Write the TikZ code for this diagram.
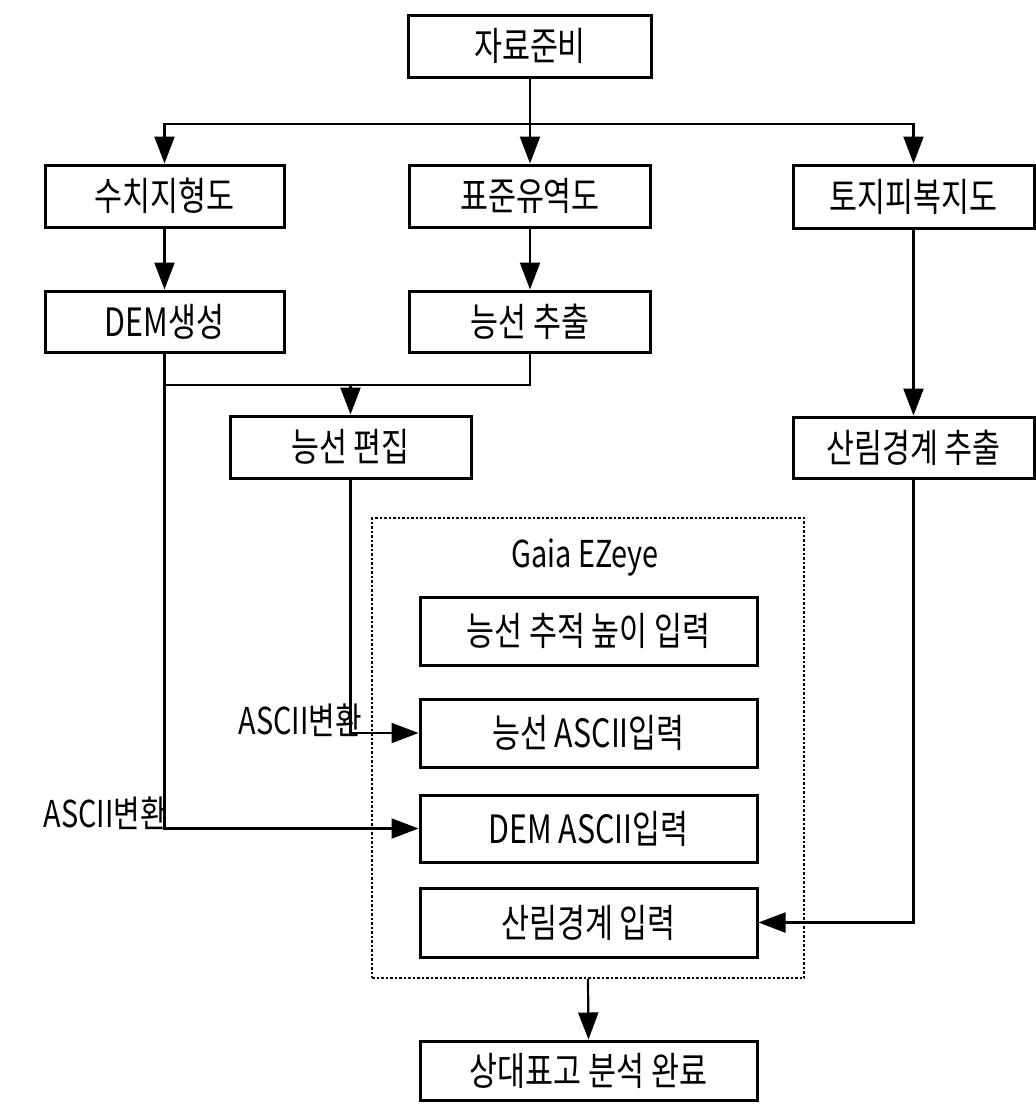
\documentclass[tikz,border=0pt]{standalone}
\usepackage{fontspec}
\setmainfont{Noto Sans CJK KR}[FakeStretch=0.78]
\usetikzlibrary{arrows.meta}
\begin{document}
\begin{tikzpicture}[x=1pt,y=-1pt,
  box/.style={draw,line width=3pt,rectangle,inner sep=0pt,font=\fontsize{39}{42}\selectfont},
  arr/.style={line width=2.2pt,-{Triangle[length=27pt,width=20pt]}},
  ln/.style={line width=2.2pt},
  lab/.style={inner sep=0pt,font=\fontsize{37}{40}\selectfont},
  ezbox/.style={draw,line width=1.8pt,dash pattern=on 2.5pt off 2pt,rectangle,inner sep=0pt}]
\useasboundingbox (0,0) rectangle (1036,1104);
% nodes
\node[box,minimum width=243pt,minimum height=62pt] (src) at (530,46) {자료준비};
\node[box,minimum width=239pt,minimum height=62pt] (suchi) at (164.5,196) {수치지형도};
\node[box,minimum width=241pt,minimum height=62pt] (std) at (530,196) {표준유역도};
\node[box,minimum width=241pt,minimum height=63pt] (toji) at (913.5,196.5) {토지피복지도};
\node[box,minimum width=239pt,minimum height=61pt] (dem) at (164.5,321.5) {DEM생성};
\node[box,minimum width=241pt,minimum height=61pt] (ridge) at (530,321.5) {능선 추출};
\node[box,minimum width=241pt,minimum height=62pt] (edit) at (350.5,447) {능선 편집};
\node[box,minimum width=241pt,minimum height=61pt] (forest) at (913.5,447.5) {산림경계 추출};
\node[ezbox,minimum width=432pt,minimum height=460pt] (ez) at (588,748) {};
\node[lab] (gaia) at (585,557) {Gaia EZeye};
\node[box,minimum width=337pt,minimum height=68pt] (trace) at (588.5,631) {능선 추적 높이 입력};
\node[box,minimum width=337pt,minimum height=68pt] (rascii) at (588.5,733) {능선 ASCII입력};
\node[box,minimum width=337pt,minimum height=67pt] (dascii) at (588.5,828.5) {DEM ASCII입력};
\node[box,minimum width=337pt,minimum height=69pt] (finput) at (588.5,922.5) {산림경계 입력};
\node[box,minimum width=337pt,minimum height=59pt] (result) at (588.5,1070.5) {상대표고 분석 완료};
\node[lab,anchor=east] (lab1) at (362,720) {ASCII변환};
\node[lab,anchor=east] (lab2) at (167,813) {ASCII변환};
% connectors
\coordinate (bus) at (530,124);
\coordinate (mg) at (164.5,385);
\draw[arr] (src.south) -- (std.north);
\draw[arr] (bus) -| (suchi.north);
\draw[arr] (bus) -| (toji.north);
\draw[arr] (suchi.south) -- (dem.north);
\draw[arr] (std.south) -- (ridge.north);
\draw[ln] (ridge.south) |- (mg);
\draw[arr] (edit.north |- mg) -- (edit.north);
\draw[arr] (dem.south) |- (dascii.west);
\draw[arr] (edit.south) |- (rascii.west);
\draw[arr] (toji.south) -- (forest.north);
\draw[arr] (forest.south) |- (finput.east);
\draw[arr] (ez.south) -- (result.north);
\end{tikzpicture}
\end{document}
